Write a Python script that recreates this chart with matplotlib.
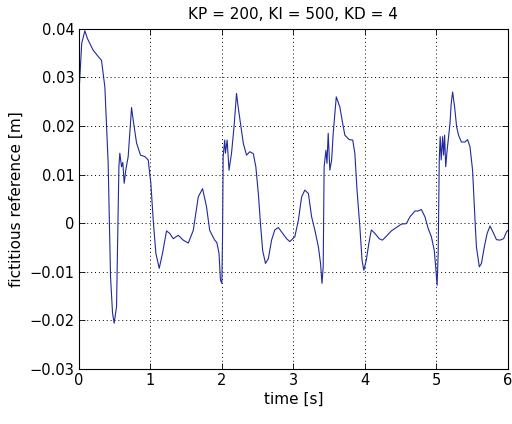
import numpy as np
import matplotlib.pyplot as plt

# time [s] and fictitious reference [m]
time_s = [0.0, 0.014, 0.04, 0.084, 0.12, 0.2, 0.26, 0.317, 0.364, 0.41, 0.443, 0.471, 0.494, 0.527,
          0.56, 0.573, 0.597, 0.615, 0.634, 0.657, 0.69, 0.737, 0.76, 0.807, 0.862, 0.923, 0.97,
          1.007, 1.04, 1.077, 1.124, 1.17, 1.226, 1.27, 1.32, 1.39, 1.46, 1.53, 1.6, 1.67, 1.73,
          1.785, 1.83, 1.9, 1.93, 1.96, 1.98, 2.0, 2.01, 2.018, 2.04, 2.05, 2.074, 2.1, 2.135, 2.17,
          2.205, 2.228, 2.275, 2.3, 2.345, 2.39, 2.44, 2.475, 2.51, 2.54, 2.57, 2.61, 2.65, 2.695,
          2.74, 2.79, 2.85, 2.905, 2.95, 3.02, 3.07, 3.115, 3.16, 3.21, 3.255, 3.3, 3.35, 3.38,
          3.40, 3.417, 3.43, 3.455, 3.47, 3.487, 3.51, 3.535, 3.557, 3.585, 3.6, 3.65, 3.69, 3.72,
          3.78, 3.83, 3.86, 3.89, 3.93, 3.96, 3.985, 4.02, 4.055, 4.09, 4.14, 4.2, 4.245, 4.3,
          4.37, 4.44, 4.51, 4.58, 4.63, 4.7, 4.745, 4.79, 4.84, 4.885, 4.93, 4.97, 4.99, 5.01,
          5.025, 5.04, 5.053, 5.067, 5.087, 5.1, 5.115, 5.13, 5.15, 5.19, 5.207, 5.227, 5.255,
          5.283, 5.31, 5.35, 5.4, 5.436, 5.47, 5.506, 5.54, 5.56, 5.6, 5.63, 5.67, 5.71, 5.75,
          5.8, 5.84, 5.89, 5.94, 5.98, 6.0]
reference = [0.0263, 0.030, 0.037, 0.0396, 0.038, 0.0356, 0.0345, 0.0335, 0.028, 0.0123, -0.011,
             -0.0185, -0.0206, -0.0172, 0.0116, 0.0144, 0.0116, 0.0125, 0.0082, 0.011, 0.0137,
             0.0238, 0.0212, 0.0165, 0.014, 0.0137, 0.013, 0.0082, 0.0006, -0.0062, -0.0093,
             -0.0062, -0.0016, -0.0021, -0.0032, -0.0025, -0.0035, -0.0041, -0.0015, 0.0054,
             0.0071, 0.0034, -0.0015, -0.0035, -0.0040, -0.0062, -0.0117, -0.0124, -0.002, 0.0137,
             0.0171, 0.0144, 0.0171, 0.0109, 0.0144, 0.0198, 0.0267, 0.0239, 0.0191, 0.0164,
             0.014, 0.0147, 0.0143, 0.0116, 0.0061, -0.0001, -0.0056, -0.0083, -0.0073, -0.0035,
             -0.0014, -0.0009, -0.0021, -0.0032, -0.0038, -0.0028, 0.0006, 0.0054, 0.0068,
             0.0061, 0.0013, -0.0014, -0.0049, -0.0083, -0.0124, -0.009, 0.0116, 0.015, 0.0123,
             0.0185, 0.0109, 0.013, 0.0185, 0.0233, 0.026, 0.0239, 0.0205, 0.0181, 0.0172,
             0.0171, 0.0143, 0.0068, -0.0008, -0.0076, -0.0097, -0.0076, -0.0042, -0.0014,
             -0.0021, -0.0032, -0.0035, -0.0027, -0.0016, -0.0009, -0.0002, -0.0001, 0.0013,
             0.0025, 0.0025, 0.0028, 0.0013, -0.0011, -0.0028, -0.0056, -0.009, -0.0128,
             -0.0062, 0.013, 0.0178, 0.013, 0.0178, 0.014, 0.0181, 0.0116, 0.015, 0.0205, 0.0246,
             0.027, 0.0239, 0.0198, 0.0181, 0.0167, 0.0167, 0.0172, 0.0157, 0.0109, 0.0006,
             -0.0049, -0.009, -0.0083, -0.0049, -0.0021, -0.0006, -0.0021, -0.0034, -0.0035,
             -0.0032, -0.0018, -0.0015]

x_ticks = [0, 1, 2, 3, 4, 5, 6]
y_ticks = [-0.03, -0.02, -0.01, 0, 0.01, 0.02, 0.03, 0.04]
y_tick_labels = ['\u22120.03', '\u22120.02', '\u22120.01', '0', '0.01', '0.02', '0.03', '0.04']

plt.rcParams['font.family'] = ['DejaVu Sans']
fig = plt.figure(figsize=(5.12, 4.24), dpi=100)
ax = fig.add_axes([0.154, 0.130, 0.838, 0.802])

ax.plot(time_s, reference, color='#1f2a9c', linewidth=0.8)

ax.set_xlim(0, 6)
ax.set_ylim(-0.03, 0.04)
ax.set_xticks(x_ticks)
ax.set_yticks(y_ticks)
ax.set_yticklabels(y_tick_labels)
ax.tick_params(direction='in', top=True, right=True, labelsize=10.5, length=4, width=0.6, pad=3)
ax.grid(True, linestyle=(0, (1, 3)), color='black', linewidth=0.7)
for sp in ax.spines.values():
    sp.set_linewidth(0.8)

ax.set_title('KP = 200, KI = 500, KD = 4', fontsize=11, pad=7)
ax.set_xlabel('time [s]', fontsize=11, labelpad=3)
ax.set_ylabel('fictitious reference [m]', fontsize=11, labelpad=4)

fig.savefig('out.png', dpi=100, facecolor='white')
